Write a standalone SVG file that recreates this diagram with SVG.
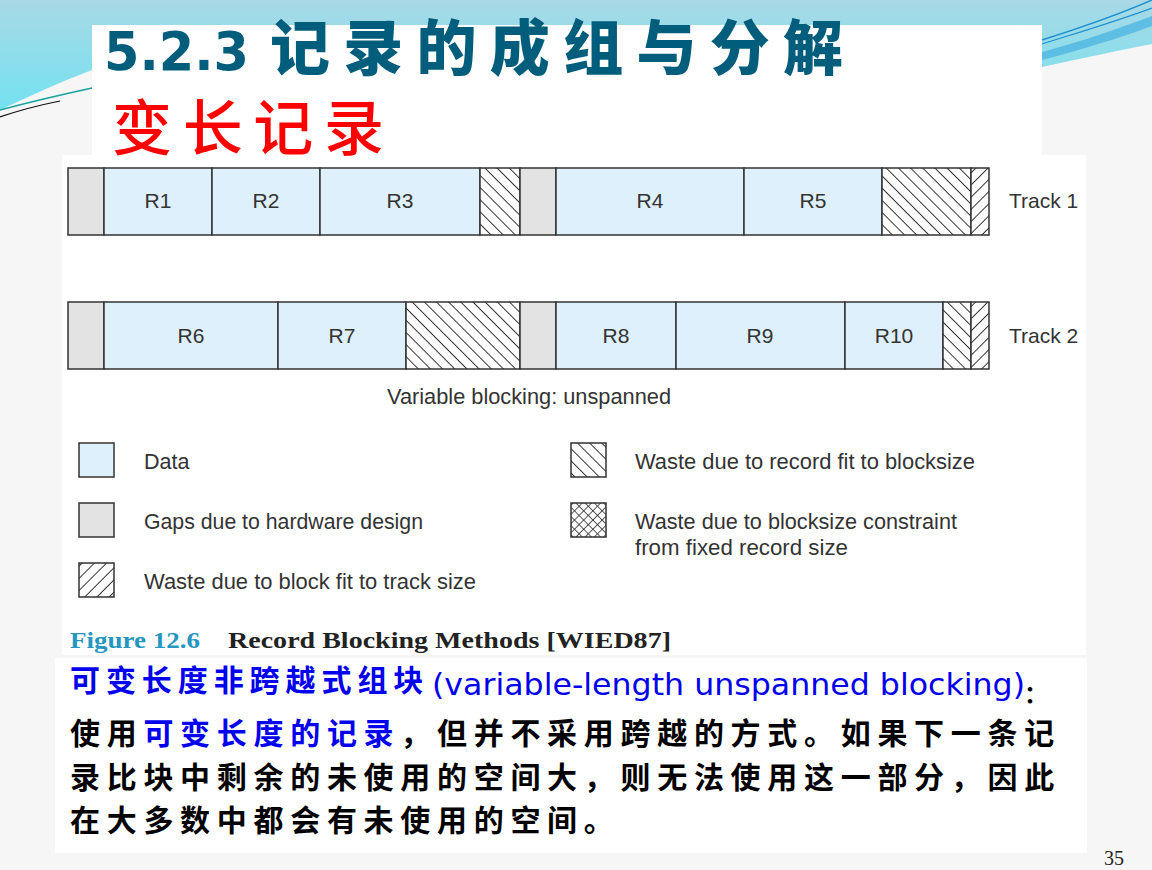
<svg xmlns="http://www.w3.org/2000/svg" width="1152" height="870" viewBox="0 0 1152 870">
<defs>
<linearGradient id="sky" x1="0" y1="0" x2="0" y2="1">
<stop offset="0" stop-color="#a9d9e6"/>
<stop offset="1" stop-color="#74e1f0"/>
</linearGradient>
<pattern id="back" width="8.6" height="8.6" patternUnits="userSpaceOnUse" patternTransform="rotate(-45)">
<rect width="8.6" height="8.6" fill="#fff"/>
<line x1="0" y1="0" x2="0" y2="8.6" stroke="#222" stroke-width="1.8"/>
</pattern>
<pattern id="fwd" width="8.6" height="8.6" patternUnits="userSpaceOnUse" patternTransform="rotate(45)">
<rect width="8.6" height="8.6" fill="#fff"/>
<line x1="0" y1="0" x2="0" y2="8.6" stroke="#222" stroke-width="1.8"/>
</pattern>
<pattern id="cross" width="6.5" height="6.5" patternUnits="userSpaceOnUse" patternTransform="rotate(45)">
<rect width="6.5" height="6.5" fill="#fff"/>
<line x1="0" y1="0" x2="0" y2="6.5" stroke="#222" stroke-width="1.5"/>
<line x1="0" y1="0" x2="6.5" y2="0" stroke="#222" stroke-width="1.5"/>
</pattern>
</defs>
<style>
.data{fill:#def0fb;stroke:#333;stroke-width:1.5}
.gap{fill:#e3e3e3;stroke:#333;stroke-width:1.5}
.wb{fill:url(#back);stroke:#333;stroke-width:1.5}
.wf{fill:url(#fwd);stroke:#333;stroke-width:1.5}
.wc{fill:url(#cross);stroke:#333;stroke-width:1.5}
.lbl{font-family:"Liberation Sans",Roboto,sans-serif;font-size:21px;fill:#333;text-anchor:middle}
.trk{font-family:"Liberation Sans",Roboto,sans-serif;font-size:21px;fill:#333}
.leg{font-family:"Liberation Sans","Open Sans",sans-serif;font-size:21.5px;fill:#333}
.cn{font-family:"Noto Sans CJK SC",sans-serif;font-weight:700;font-size:30px;fill:#000;letter-spacing:6.7px}
.blue{fill:#0000ee}
</style>
<rect width="1152" height="870" fill="#f6f6f6"/>
<g id="background">
<path d="M0,0 H1152 V44 C1110,52 1075,60 1042,67 L92,70 C60,82 30,96 0,110 Z" fill="url(#sky)"/>
<path d="M1042,52 C1080,42 1120,28 1152,16 V26 C1120,38 1080,50 1042,60 Z" fill="#4fb6e2" opacity="0.8"/>
<path d="M1042,40 C1080,28 1120,14 1152,0" fill="none" stroke="#1f8fcf" stroke-width="1.5"/>
<path d="M1042,44 C1080,32 1120,20 1152,8" fill="none" stroke="#1f8fcf" stroke-width="1.2"/>
<path d="M0,110 C30,102 60,95 92,88" fill="none" stroke="#16a39b" stroke-width="1.5"/>
<path d="M0,117 C20,110 40,105 60,101" fill="none" stroke="#111" stroke-width="1.2"/>
<rect x="62" y="155" width="1024" height="500" fill="#fff"/>
<rect x="55" y="658" width="1032" height="195" fill="#fff"/>
</g>
<g id="title">
<rect x="92" y="25" width="950" height="130" fill="#fff"/>
<text x="104" y="70" font-family="'DejaVu Sans',sans-serif" font-weight="700" font-size="54" fill="#005e7c" textLength="145" lengthAdjust="spacingAndGlyphs">5.2.3</text>
<text x="270" y="70" font-family="'Noto Sans CJK SC',sans-serif" font-weight="900" font-size="60" fill="#005e7c" textLength="573" lengthAdjust="spacing">记录的成组与分解</text>
<text x="112" y="150" font-family="'Noto Sans CJK SC',sans-serif" font-weight="500" font-size="60" fill="#ff0000" textLength="272" lengthAdjust="spacing">变长记录</text>
</g>
<g id="track1">
<rect class="gap" x="68" y="168" width="36" height="67"/>
<rect class="data" x="104" y="168" width="108" height="67"/>
<rect class="data" x="212" y="168" width="108" height="67"/>
<rect class="data" x="320" y="168" width="160" height="67"/>
<rect class="wb" x="480" y="168" width="40" height="67"/>
<rect class="gap" x="520" y="168" width="36" height="67"/>
<rect class="data" x="556" y="168" width="188" height="67"/>
<rect class="data" x="744" y="168" width="138" height="67"/>
<rect class="wb" x="882" y="168" width="89" height="67"/>
<rect class="wf" x="971" y="168" width="18" height="67"/>
<text class="lbl" x="158" y="208">R1</text>
<text class="lbl" x="266" y="208">R2</text>
<text class="lbl" x="400" y="208">R3</text>
<text class="lbl" x="650" y="208">R4</text>
<text class="lbl" x="813" y="208">R5</text>
<text class="trk" x="1009" y="208">Track 1</text>
</g>
<g id="track2">
<rect class="gap" x="68" y="302" width="36" height="67"/>
<rect class="data" x="104" y="302" width="174" height="67"/>
<rect class="data" x="278" y="302" width="128" height="67"/>
<rect class="wb" x="406" y="302" width="114" height="67"/>
<rect class="gap" x="520" y="302" width="36" height="67"/>
<rect class="data" x="556" y="302" width="120" height="67"/>
<rect class="data" x="676" y="302" width="169" height="67"/>
<rect class="data" x="845" y="302" width="98" height="67"/>
<rect class="wb" x="943" y="302" width="28" height="67"/>
<rect class="wf" x="971" y="302" width="18" height="67"/>
<text class="lbl" x="191" y="343">R6</text>
<text class="lbl" x="342" y="343">R7</text>
<text class="lbl" x="616" y="343">R8</text>
<text class="lbl" x="760" y="343">R9</text>
<text class="lbl" x="894" y="343">R10</text>
<text class="trk" x="1009" y="343">Track 2</text>
</g>
<g id="subtitle">
<text class="leg" x="387" y="404" textLength="284" lengthAdjust="spacingAndGlyphs">Variable blocking: unspanned</text>
</g>
<g id="legend-data">
<rect class="data" x="79" y="443" width="35" height="34"/>
<text class="leg" x="144" y="469">Data</text>
</g>
<g id="legend-gap">
<rect class="gap" x="79" y="503" width="35" height="34"/>
<text class="leg" x="144" y="529" textLength="279" lengthAdjust="spacingAndGlyphs">Gaps due to hardware design</text>
</g>
<g id="legend-track">
<rect class="wf" x="79" y="563" width="35" height="34"/>
<text class="leg" x="144" y="589" textLength="332" lengthAdjust="spacingAndGlyphs">Waste due to block fit to track size</text>
</g>
<g id="legend-record">
<rect class="wb" x="571" y="443" width="35" height="34"/>
<text class="leg" x="635" y="469" textLength="340" lengthAdjust="spacingAndGlyphs">Waste due to record fit to blocksize</text>
</g>
<g id="legend-fixed">
<rect class="wc" x="571" y="503" width="35" height="34"/>
<text class="leg" x="635" y="529" textLength="322" lengthAdjust="spacingAndGlyphs">Waste due to blocksize constraint</text>
<text class="leg" x="635" y="555" textLength="213" lengthAdjust="spacingAndGlyphs">from fixed record size</text>
</g>
<g id="caption">
<text x="70" y="648" font-family="'Liberation Serif',serif" font-weight="700" font-size="23" fill="#2596bf" textLength="130" lengthAdjust="spacingAndGlyphs">Figure 12.6</text>
<text x="228" y="648" font-family="'Liberation Serif',serif" font-weight="700" font-size="23" fill="#222" textLength="443" lengthAdjust="spacingAndGlyphs">Record Blocking Methods [WIED87]</text>
</g>
<g id="paragraph">
<text x="70" y="691" class="cn blue" textLength="360" lengthAdjust="spacing">可变长度非跨越式组块</text>
<text x="432" y="695" font-family="'DejaVu Sans',Verdana,sans-serif" font-size="30" fill="#0000ee" textLength="593" lengthAdjust="spacingAndGlyphs">(variable-length unspanned blocking)</text>
<text x="1024" y="703" font-family="'Noto Sans CJK SC',sans-serif" font-weight="700" font-size="24" fill="#000">：</text>
<text x="70" y="744" class="cn">使用<tspan class="blue">可变长度的记录</tspan>，但并不采用跨越的方式。如果下一条记</text>
<text x="70" y="788" class="cn">录比块中剩余的未使用的空间大，则无法使用这一部分，因此</text>
<text x="70" y="831" class="cn">在大多数中都会有未使用的空间。</text>
</g>
<g id="page-number">
<text x="1114" y="865" font-family="'Liberation Serif',serif" font-size="20" fill="#222" text-anchor="middle">35</text>
</g>
</svg>
